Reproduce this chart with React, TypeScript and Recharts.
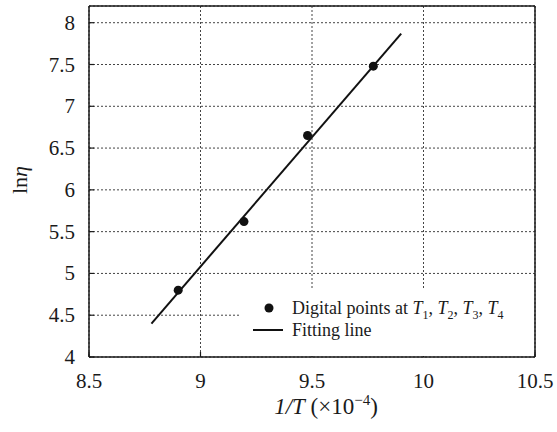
import React from 'react';
import {
  ComposedChart,
  Scatter,
  XAxis,
  YAxis,
  CartesianGrid,
  Legend,
  Label
} from 'recharts';

const xTicks = [8.5, 9, 9.5, 10, 10.5];
const yTicks = [4, 4.5, 5, 5.5, 6, 6.5, 7, 7.5, 8];

const pointX = [8.9, 9.195, 9.48, 9.775];
const pointY = [4.8, 5.62, 6.65, 7.48];

// fitted line end points
const fitX = [8.78, 9.9];
const fitY = [4.4, 7.87];

const points = pointX.map((x, i) => ({ x, y: pointY[i] }));
const fit = fitX.map((x, i) => ({ x, y: fitY[i] }));

const FONT = "'Liberation Serif', 'Times New Roman', serif";
const INK = '#1a1a1a';

const XTick = (props: any) => {
  const { x, y, payload } = props;
  return (
    <text x={x} y={y + 36} textAnchor="middle" fontFamily={FONT} fontSize={21} fill={INK}>
      {payload.value}
    </text>
  );
};

const YTick = (props: any) => {
  const { x, y, payload } = props;
  return (
    <text x={x - 19} y={y + 7} textAnchor="end" fontFamily={FONT} fontSize={21} fill={INK}>
      {payload.value}
    </text>
  );
};

const XTitle = (props: any) => {
  const vb = props.viewBox || {};
  const cx = vb.x + vb.width / 2 + 14;
  return (
    <text x={cx} y={414} textAnchor="middle" fontFamily={FONT} fontSize={23} fill={INK}>
      <tspan fontStyle="italic">1/T</tspan>
      <tspan> (×10</tspan>
      <tspan dy={-9} fontSize={15}>−4</tspan>
      <tspan dy={9}>)</tspan>
    </text>
  );
};

const YTitle = () => (
  <text
    x={0}
    y={0}
    transform="translate(27, 180) rotate(-90)"
    textAnchor="middle"
    fontFamily={FONT}
    fontSize={22}
    fill={INK}
  >
    <tspan>ln</tspan>
    <tspan fontStyle="italic">η</tspan>
  </text>
);

const Sub = ({ n }: { n: number }) => (
  <>
    <i>T</i>
    <sub style={{ fontSize: 12, lineHeight: 0 }}>{n}</sub>
  </>
);

const rowStyle: React.CSSProperties = { display: 'flex', alignItems: 'center', height: 22 };

const LegendBox = () => (
  <div style={{ fontFamily: FONT, fontSize: 18, color: INK, lineHeight: '22px', background: '#fff', padding: '7px 0 0 10px', height: '100%', boxSizing: 'border-box' }}>
    <div style={rowStyle}>
      <svg width={41} height={14}>
        <circle cx={18} cy={7} r={4.5} fill="#111" />
      </svg>
      <span>
        Digital points at <Sub n={1} />, <Sub n={2} />, <Sub n={3} />, <Sub n={4} />
      </span>
    </div>
    <div style={rowStyle}>
      <svg width={41} height={14}>
        <line x1={2} y1={7} x2={32} y2={7} stroke="#111" strokeWidth={2} />
      </svg>
      <span>Fitting line</span>
    </div>
  </div>
);

export default function App() {
  return (
    <div style={{ position: 'absolute', left: 0, top: 0, width: 557, height: 432, background: '#fff' }}>
      <ComposedChart width={557} height={432} margin={{ top: 6, right: 22, bottom: 45, left: 29 }}>
        <CartesianGrid stroke="#444" strokeDasharray="2 2" strokeWidth={1} />
        <XAxis
          type="number"
          dataKey="x"
          domain={[8.5, 10.5]}
          ticks={xTicks}
          allowDataOverflow
          height={30}
          tickSize={-5}
          tickMargin={0}
          axisLine={{ stroke: INK, strokeWidth: 1.5 }}
          tickLine={{ stroke: INK, strokeWidth: 1.2 }}
          tick={<XTick />}
        >
          <Label content={<XTitle />} />
        </XAxis>
        <XAxis
          xAxisId="top"
          orientation="top"
          type="number"
          dataKey="x"
          domain={[8.5, 10.5]}
          ticks={xTicks}
          mirror
          tick={false}
          tickSize={5}
          axisLine={{ stroke: INK, strokeWidth: 1.5 }}
          tickLine={{ stroke: INK, strokeWidth: 1.2 }}
        />
        <YAxis
          type="number"
          dataKey="y"
          domain={[4, 8.2]}
          ticks={yTicks}
          allowDataOverflow
          width={60}
          tickSize={-5}
          tickMargin={0}
          axisLine={{ stroke: INK, strokeWidth: 1.5 }}
          tickLine={{ stroke: INK, strokeWidth: 1.2 }}
          tick={<YTick />}
        >
          <Label content={<YTitle />} />
        </YAxis>
        <YAxis
          yAxisId="right"
          orientation="right"
          type="number"
          dataKey="y"
          domain={[4, 8.2]}
          ticks={yTicks}
          mirror
          tick={false}
          tickSize={5}
          axisLine={{ stroke: INK, strokeWidth: 1.5 }}
          tickLine={{ stroke: INK, strokeWidth: 1.2 }}
        />
        <Scatter
          data={fit}
          line={{ stroke: '#111', strokeWidth: 2 }}
          shape={() => null}
          isAnimationActive={false}
        />
        <Scatter
          data={points}
          fill="#111"
          isAnimationActive={false}
          shape={(p: any) => <circle cx={p.cx} cy={p.cy} r={4.5} fill="#111" />}
        />
        <Legend
          layout="horizontal"
          verticalAlign="middle"
          align="center"
          content={<LegendBox />}
          wrapperStyle={{ left: 241, top: 290, width: 293, height: 66 }}
        />
      </ComposedChart>
    </div>
  );
}
